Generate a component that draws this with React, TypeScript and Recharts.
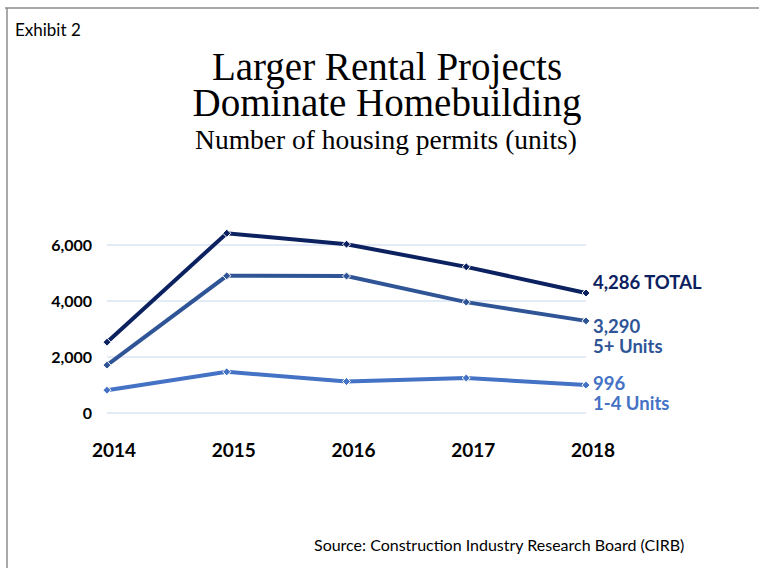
import React from 'react';
import { LineChart, Line, XAxis, YAxis, CartesianGrid, LabelList } from 'recharts';

// housing permits (units) by year
const years = ['2014', '2015', '2016', '2017', '2018'];
const totalUnits = [2530, 6420, 6030, 5220, 4286];
const fivePlusUnits = [1710, 4900, 4890, 3960, 3290];
const oneToFourUnits = [815, 1470, 1125, 1250, 996];
const yTicks = [0, 2000, 4000, 6000];

const data = years.map((year, i) => ({
  year,
  total: totalUnits[i],
  fivePlus: fivePlusUnits[i],
  oneToFour: oneToFourUnits[i],
}));

const fmt = (v: number) => v.toLocaleString('en-US');
const SANS = 'Lato, "Open Sans", sans-serif';

const makeDot = (color: string) => (props: any) => {
  const { cx, cy, index } = props;
  const r = 4;
  return (
    <polygon
      key={`d-${index}`}
      points={`${cx},${cy - r} ${cx + r},${cy} ${cx},${cy + r} ${cx - r},${cy}`}
      fill={color}
      stroke="#ffffff"
      strokeWidth={1}
    />
  );
};

// label at the last point: first line is the value, optional suffix/second line
const makeEndLabel = (color: string, suffix: string, dy: number, secondLine?: string, dy2?: number) =>
  (props: any) => {
    const { x, y, value, index } = props;
    if (index !== years.length - 1) return null;
    return (
      <g key="end-label">
        <text x={x + 7} y={y + dy} fill={color} fontSize={18.5} fontWeight="bold" fontFamily={SANS}>
          {fmt(value)}{suffix}
        </text>
        {secondLine && (
          <text x={x + 7} y={y + (dy2 || 0)} fill={color} fontSize={18.5} fontWeight="bold" fontFamily={SANS}>
            {secondLine}
          </text>
        )}
      </g>
    );
  };

const XTick = (props: any) => {
  const { x, y, payload } = props;
  return (
    <text x={x + 7} y={y} dy={36} textAnchor="middle" fontSize={19} fontWeight="bold" fontFamily={SANS} fill="#000">
      {payload.value}
    </text>
  );
};

export default function App() {
  return (
    <div style={{ position: 'absolute', left: 0, top: 0, width: 759, height: 568, background: '#fff' }}>
      <LineChart
        width={759}
        height={568}
        data={data}
        margin={{ top: 217, right: 173, bottom: 125, left: 47 }}
      >
        <CartesianGrid vertical={false} stroke="#d9e4f3" strokeWidth={1.5} syncWithTicks />
        <XAxis dataKey="year" axisLine={false} tickLine={false} tick={<XTick />} height={30} />
        <YAxis
          domain={[0, 7000]}
          ticks={yTicks}
          axisLine={false}
          tickLine={false}
          tickMargin={9}
          width={60}
          tickFormatter={fmt}
          tick={{ fontSize: 16, fontWeight: 'bold', fill: '#000', fontFamily: SANS }}
        />
        <Line
          dataKey="oneToFour"
          stroke="#4472c4"
          strokeWidth={4}
          dot={makeDot('#4472c4')}
          isAnimationActive={false}
        >
          <LabelList dataKey="oneToFour" content={makeEndLabel('#4472c4', '', 5, '1-4 Units', 25)} />
        </Line>
        <Line
          dataKey="fivePlus"
          stroke="#2f5597"
          strokeWidth={4}
          dot={makeDot('#2f5597')}
          isAnimationActive={false}
        >
          <LabelList dataKey="fivePlus" content={makeEndLabel('#2f5597', '', 12, '5+ Units', 32)} />
        </Line>
        <Line
          dataKey="total"
          stroke="#0b2160"
          strokeWidth={4}
          dot={makeDot('#0b2160')}
          isAnimationActive={false}
        >
          <LabelList dataKey="total" content={makeEndLabel('#0b2160', ' TOTAL', -4)} />
        </Line>
      </LineChart>
      <svg width={759} height={568} style={{ position: 'absolute', left: 0, top: 0, pointerEvents: 'none' }}>
        <line x1={5} y1={8} x2={759} y2={8} stroke="#8c8c8c" strokeWidth={1.5} />
        <line x1={7} y1={8} x2={7} y2={568} stroke="#8c8c8c" strokeWidth={1.5} />
        <text x={15} y={36} fontSize={17} fontFamily={SANS} fill="#000">Exhibit 2</text>
        <g fontFamily='"Liberation Serif", "Times New Roman", serif' fill="#000" textAnchor="middle">
          <text x={387} y={80} fontSize={39}>Larger Rental Projects</text>
          <text x={387} y={116} fontSize={39}>Dominate Homebuilding</text>
          <text x={386} y={149} fontSize={27.5}>Number of housing permits (units)</text>
        </g>
        <text x={314} y={551} fontSize={16} fontFamily={SANS} fill="#000">
          Source: Construction Industry Research Board (CIRB)
        </text>
      </svg>
    </div>
  );
}
